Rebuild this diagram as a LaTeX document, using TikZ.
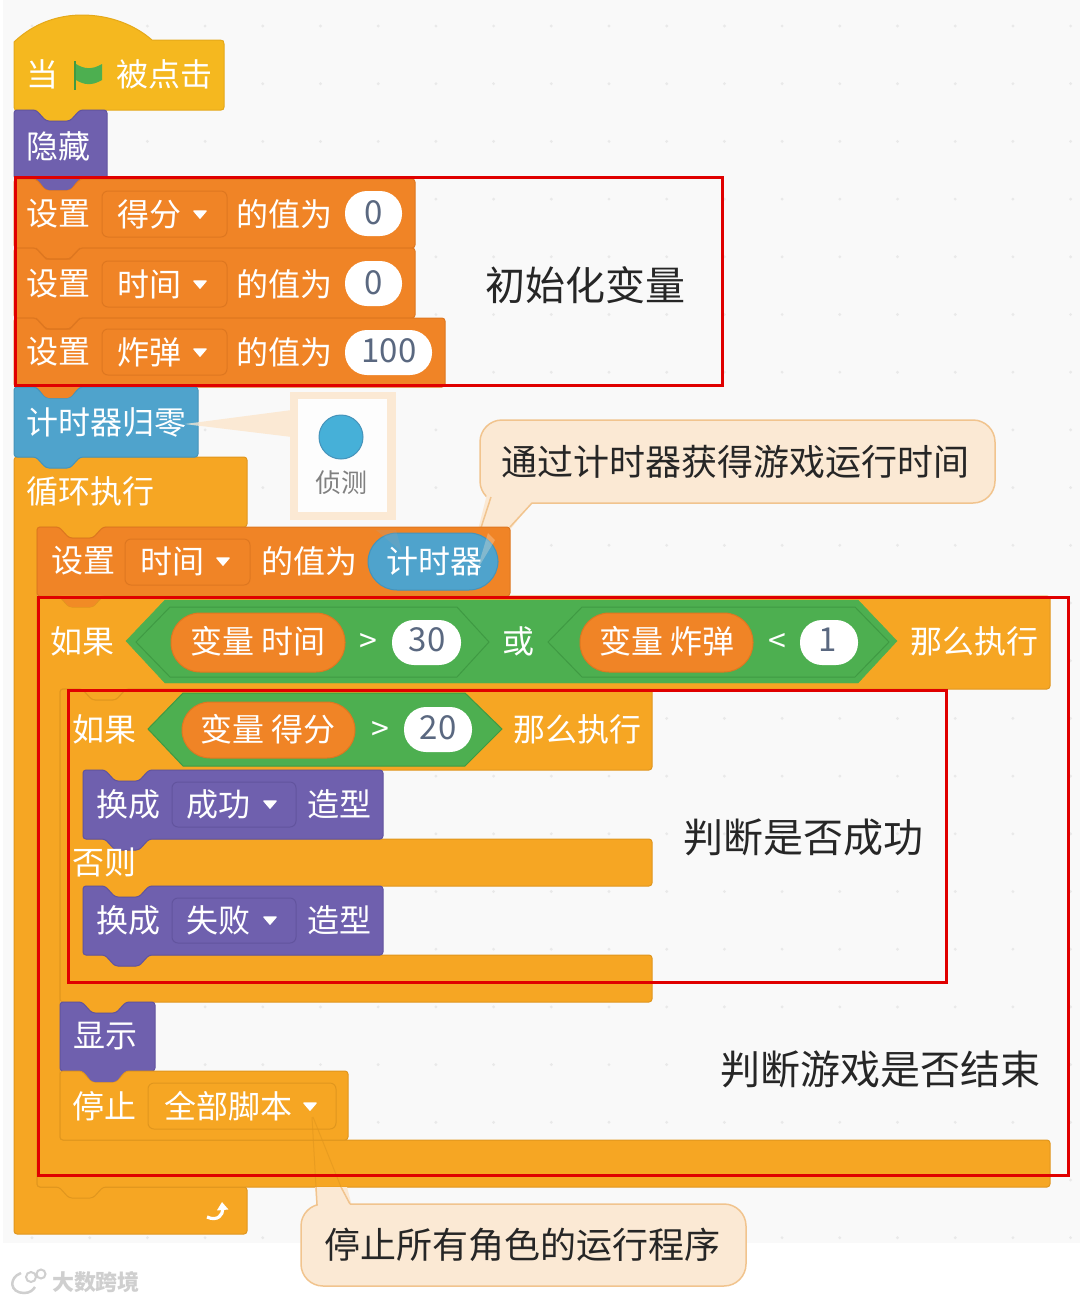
\documentclass[tikz,border=0pt]{standalone}
\usepackage{fontspec}
\setmainfont{Noto Sans CJK SC}
\usetikzlibrary{arrows.meta}
\definecolor{bgc}{HTML}{F9F9F9}
\definecolor{dotc}{HTML}{E9E9E9}
\definecolor{hatc}{HTML}{F5B81F}
\definecolor{hatd}{HTML}{E5A91A}
\definecolor{purc}{HTML}{6F60AE}
\definecolor{purd}{HTML}{62549E}
\definecolor{orc}{HTML}{F08426}
\definecolor{ord}{HTML}{DE7720}
\definecolor{bluc}{HTML}{4FA3CC}
\definecolor{blud}{HTML}{4593BA}
\definecolor{ctlc}{HTML}{F6A623}
\definecolor{ctld}{HTML}{E0961E}
\definecolor{grc}{HTML}{4DAF50}
\definecolor{grd}{HTML}{3F9A43}
\definecolor{numc}{HTML}{5A6880}
\definecolor{redc}{HTML}{E00000}
\definecolor{palec}{HTML}{FBE9D4}
\definecolor{paled}{HTML}{F1C48E}
\definecolor{wmc}{HTML}{CFCFCF}
\definecolor{circc}{HTML}{46B0D8}
\tikzset{
  blk/.style={fill=#1c,draw=#1d,line width=1pt,rounded corners=3pt},
  txt/.style={inner sep=0pt,text=white,font=\fontsize{32}{32}\selectfont},
  num/.style={inner sep=0pt,text=numc,font=\fontsize{33}{33}\selectfont},
  note/.style={inner sep=0pt,text=black!85,font=\fontsize{36}{36}\selectfont},
  big/.style={inner sep=0pt,text=black!85,font=\fontsize{40}{40}\selectfont},
  drop/.style={line width=1pt,rounded corners=6pt},
  pillw/.style={fill=white,rounded corners=22pt},
  redbox/.style={draw=redc,line width=3pt},
  tri/.style={fill=white,draw=white,line width=1.5pt,line join=round},
  hexl/.style={draw=grd,line width=1pt},
  bubble/.style={fill=palec,draw=paled,line width=1.5pt}
}
\def\nr#1#2{-- (#1+22,#2) -- (#1+32,#2+11) -- (#1+56,#2+11) -- (#1+66,#2)}
\def\bl#1#2{-- (#1+66,#2) -- (#1+56,#2+11) -- (#1+32,#2+11) -- (#1+22,#2)}
% colour prefix, x1,y1,x2,y2
\newcommand\stack[5]{\draw[blk=#1] (#2,#3) \nr{#2}{#3} -- (#4,#3) -- (#4,#5) \bl{#2}{#5} -- (#2,#5) -- cycle;}
\newcommand\dropbox[5]{\draw[drop,fill=#1c,draw=#1d] (#2,#3) rectangle (#4,#5);}
\newcommand\dtri[2]{\draw[tri] (#1-6,#2-3) -- (#1+6,#2-3) -- (#1,#2+4) -- cycle;}
\begin{document}
\begin{tikzpicture}[x=1pt,y=-1pt]
\useasboundingbox (0,0) rectangle (1080,1302);
\fill[white] (0,0) rectangle (1080,1302);
\fill[bgc] (3,0) rectangle (1080,1243);
\foreach \i in {0,...,18}{\foreach \j in {0,...,21}{
  \fill[dotc] ({32+57.7*\i},{26+57.7*\j}) circle (1.6);}}

% ---- green flag hat
\draw[fill=hatc,draw=hatd,line width=1pt] (14,42) .. controls (35,22) and (60,15) .. (82,15) .. controls (110,15) and (135,25) .. (152,40) -- (220,40) .. controls (223,40) and (224,41) .. (224,44) -- (224,107) .. controls (224,109) and (223,110) .. (221,110) \bl{14}{110} -- (17,110) .. controls (15,110) and (14,109) .. (14,107) -- cycle;
\node[txt] (dang) at (42,74) {当};
\draw[line width=2pt,draw=grd] (75,61) -- (75,90);
\fill[grc] (76,64) .. controls (84,69) and (92,70) .. (102,64) -- (102,80) .. controls (92,86) and (84,85) .. (76,80) -- cycle;
\node[txt] (clicked) at (164,74) {被点击};

% ---- hide
\stack{pur}{14}{110}{107}{179}
\node[txt] (hide) at (59,146) {隐藏};

% ---- set variables
\stack{or}{14}{179}{415}{248}
\stack{or}{14}{248}{415}{318}
\draw[blk=or] (14,318) \nr{14}{318} -- (445,318) -- (445,387) \bl{14}{387} -- (14,387) -- cycle;
\fill[purc,rounded corners=3pt] (36,177) -- (46,190) -- (70,190) -- (80,177) -- cycle;
\draw[ord,line width=1pt] (36,248) -- (46,259) -- (70,259) -- (80,248);
\draw[ord,line width=1pt] (36,318) -- (46,329) -- (70,329) -- (80,318);

\node[txt] (s1) at (59,214) {设置};
\dropbox{or}{102}{191}{227}{237}
\node[txt] (v1) at (149,214) {得分};
\dtri{200}{214}
\node[txt] (t1) at (284,214) {的值为};
\fill[pillw] (345,191) rectangle (402,236);
\node[num] (n1) at (374,213) {0};

\node[txt] (s2) at (59,284) {设置};
\dropbox{or}{102}{261}{227}{307}
\node[txt] (v2) at (149,284) {时间};
\dtri{200}{284}
\node[txt] (t2) at (284,284) {的值为};
\fill[pillw] (345,261) rectangle (402,306);
\node[num] (n2) at (374,283) {0};

\node[txt] (s3) at (59,352) {设置};
\dropbox{or}{102}{329}{227}{375}
\node[txt] (v3) at (149,352) {炸弹};
\dtri{200}{352}
\node[txt] (t3) at (284,352) {的值为};
\fill[pillw] (345,330) rectangle (432,375);
\node[num] (n3) at (389,351) {100};

% ---- monitor popup
\fill[palec] (185,424) -- (292,410) -- (292,437) -- cycle;
\fill[palec] (290,392) rectangle (396,520);
\fill[white!60!bgc] (298,399) rectangle (387,512);
\draw[draw=blud,line width=1pt,fill=circc] (341,437) circle (22);
\node[inner sep=0pt,text=black!50,font=\fontsize{26}{26}\selectfont] (det) at (341,483) {侦测};

% ---- callout 1
\draw[bubble,rounded corners=22pt] (480,420) rectangle (995,503);
\fill[palec] (488,490) -- (535,498) -- (510,530) -- (478,530) -- cycle;
\draw[paled,line width=1.5pt] (491,497) -- (477,540);
\draw[paled,line width=1.5pt] (532,503) -- (510,527);
\node[note] (c1) at (735,462) {通过计时器获得游戏运行时间};

% ---- forever loop
\draw[blk=ctl] (14,457) -- (247,457) -- (247,527) \bl{37}{527} -- (37,527) -- (37,1187) -- (247,1187) -- (247,1234) -- (14,1234) -- cycle;
\node[txt] (loop) at (91,491) {循环执行};
\draw[white,line width=3.2pt,-{Triangle[width=11pt,length=8pt]}] (207,1217) .. controls (218,1222) and (223,1214) .. (222,1202);

% ---- reset timer
\draw[blk=blu] (14,387) \nr{14}{387} -- (198,387) -- (198,457) \bl{14}{457} -- (14,457) -- cycle;
\fill[orc,rounded corners=3pt] (36,385) -- (46,398) -- (70,398) -- (80,385) -- cycle;
\fill[palec,opacity=.75] (185,424) -- (200,422) -- (200,426) -- cycle;
\node[txt] (timer) at (107,422) {计时器归零};

% ---- set time = timer
\stack{or}{37}{527}{510}{596}
\node[txt] (s4) at (83,561) {设置};
\dropbox{or}{125}{539}{250}{585}
\node[txt] (v4) at (172,561) {时间};
\dtri{223}{561}
\node[txt] (t4) at (309,561) {的值为};
\draw[fill=bluc,draw=blud,line width=1pt,rounded corners=29pt] (368,533) rectangle (498,590);
\fill[black!35,opacity=.2] (376,530) -- (396,530) -- (402,552) -- cycle;
\fill[palec,opacity=.3] (495,540) -- (488,533) -- (477,570) -- cycle;
\node[txt] (timerv) at (434,561) {计时器};

% ---- outer if
\draw[blk=ctl] (37,596) \nr{37}{596} -- (1050,596) -- (1050,689) \bl{60}{689} -- (60,689) -- (60,1140) -- (1050,1140) -- (1050,1187) \bl{37}{1187} -- (37,1187) -- cycle;
\fill[orc!80!ctlc,rounded corners=3pt] (59,595) -- (69,607) -- (93,607) -- (103,595) -- cycle;
\node[txt] (if1) at (82,641) {如果};
\draw[fill=grc,draw=grc] (126,641) -- (165,600) -- (858,600) -- (897,641) -- (858,683) -- (165,683) -- cycle;
\draw[hexl] (136,642) -- (170,607) -- (457,607) -- (489,642) -- (457,677) -- (170,677) -- cycle;
\draw[hexl] (548,642) -- (582,607) -- (855,607) -- (889,642) -- (855,677) -- (582,677) -- cycle;
\draw[fill=orc,draw=ord,line width=1pt,rounded corners=29pt] (171,613) rectangle (345,672);
\node[txt] (var1) at (258,641) {变量 时间};
\node[txt] (gt1) at (368,643) {>};
\fill[pillw] (392,620) rectangle (461,665);
\node[num] (n30) at (427,640) {30};
\node[txt] (or1) at (518,641) {或};
\draw[fill=orc,draw=ord,line width=1pt,rounded corners=29pt] (580,613) rectangle (753,672);
\node[txt] (var2) at (667,641) {变量 炸弹};
\node[txt] (lt1) at (777,643) {<};
\fill[pillw] (800,620) rectangle (858,665);
\node[num] (n1b) at (828,640) {1};
\node[txt] (then1) at (974,641) {那么执行};

% ---- inner if / else
\draw[blk=ctl] (60,689) \nr{60}{689} -- (652,689) -- (652,770) \bl{83}{770} -- (83,770) -- (83,839) \nr{83}{839} -- (652,839) -- (652,886) \bl{83}{886} -- (83,886) -- (83,955) \nr{83}{955} -- (652,955) -- (652,1002) \bl{60}{1002} -- (60,1002) -- cycle;
\node[txt] (if2) at (104,729) {如果};
\draw[fill=grc,draw=grd,line width=1pt] (148,729) -- (183,693) -- (465,693) -- (502,729) -- (465,766) -- (183,766) -- cycle;
\draw[fill=orc,draw=ord,line width=1pt,rounded corners=28pt] (182,702) rectangle (355,758);
\node[txt] (var3) at (268,729) {变量 得分};
\node[txt] (gt2) at (380,731) {>};
\fill[pillw] (404,707) rectangle (472,752);
\node[num] (n20) at (438,728) {20};
\node[txt] (then2) at (577,729) {那么执行};

\stack{pur}{83}{770}{383}{839}
\node[txt] (sw1) at (128,804) {换成};
\dropbox{pur}{172}{782}{296}{827}
\node[txt] (c2) at (218,804) {成功};
\dtri{270}{804}
\node[txt] (m1) at (339,804) {造型};

\node[txt] (else) at (104,862) {否则};

\stack{pur}{83}{886}{383}{955}
\node[txt] (sw2) at (128,920) {换成};
\dropbox{pur}{172}{898}{296}{943}
\node[txt] (c3) at (218,920) {失败};
\dtri{270}{920}
\node[txt] (m2) at (339,920) {造型};

% ---- show / stop
\stack{pur}{60}{1002}{155}{1071}
\node[txt] (show) at (105,1036) {显示};
\draw[blk=ctl] (60,1071) \nr{60}{1071} -- (348,1071) -- (348,1140) -- (60,1140) -- cycle;
\fill[purc,rounded corners=3pt] (82,1069) -- (92,1082) -- (116,1082) -- (126,1069) -- cycle;
\node[txt] (stop) at (104,1106) {停止};
\dropbox{ctl}{148}{1083}{336}{1129}
\node[txt] (all) at (228,1106) {全部脚本};
\dtri{310}{1106}

% ---- callout 2
\fill[palec] (315,1187) -- (347,1187) -- (352,1206) -- (317,1208) -- cycle;
\draw[bubble,rounded corners=22pt] (301,1204) rectangle (746,1286);
\fill[palec] (318,1198) rectangle (350,1212);
\draw[paled,line width=1.5pt] (316,1187) -- (317,1205);
\draw[paled,line width=1.5pt] (341,1187) -- (350,1204);
\draw[ctld,line width=1pt,opacity=.6] (312,1117) -- (316,1187);
\draw[ctld,line width=1pt,opacity=.6] (313,1117) -- (341,1187);
\node[note] (c4) at (522,1245) {停止所有角色的运行程序};

% ---- red frames
\draw[redbox] (15,177) rectangle (722,385);
\draw[redbox] (38,597) rectangle (1068,1175);
\draw[redbox] (68,690) rectangle (946,982);
\node[big] (b1) at (585,285) {初始化变量};
\node[big] (b2) at (803,837) {判断是否成功};
\node[big] (b3) at (880,1069) {判断游戏是否结束};

% ---- watermark
\draw[wmc,line width=2.5pt] (21,1273) .. controls (8,1278) and (10,1293) .. (24,1293) .. controls (30,1293) and (33,1290) .. (35,1287);
\draw[wmc,line width=2pt] (31,1277) circle (5);
\draw[wmc,line width=2pt] (41,1274) circle (4.5);
\node[inner sep=0pt,text=wmc,font=\fontsize{22}{22}\selectfont\bfseries] (wm) at (96,1282) {大数跨境};
\end{tikzpicture}
\end{document}
